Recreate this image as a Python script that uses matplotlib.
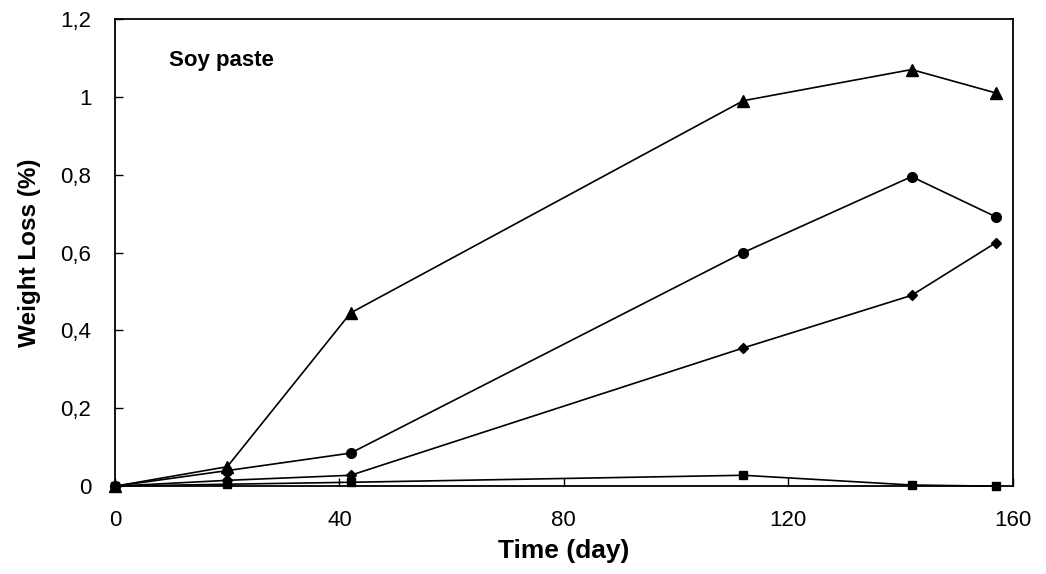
import matplotlib
matplotlib.use('Agg')
import matplotlib.pyplot as plt
from matplotlib.ticker import FuncFormatter

# data
days = [0, 20, 42, 112, 142, 157]
loss_triangle = [0, 0.05, 0.445, 0.99, 1.07, 1.01]
loss_circle = [0, 0.04, 0.085, 0.60, 0.795, 0.692]
loss_diamond = [0, 0.015, 0.028, 0.355, 0.49, 0.625]
loss_square = [0, 0.005, 0.01, 0.028, 0.003, 0.0]

x_ticks = [0, 40, 80, 120, 160]
y_ticks = [0, 0.2, 0.4, 0.6, 0.8, 1.0, 1.2]

plt.rcParams['font.family'] = ['Liberation Sans', 'DejaVu Sans']

fig = plt.figure(figsize=(10.46, 5.74), dpi=100)
ax = fig.add_axes([0.110, 0.153, 0.858, 0.814])

series = [
    (loss_triangle, '^', 8),
    (loss_circle, 'o', 7),
    (loss_diamond, 'D', 5.5),
    (loss_square, 's', 6),
]
for vals, mk, ms in series:
    ax.plot(days, vals, color='black', lw=1.2, marker=mk, markersize=ms,
            markerfacecolor='black', markeredgecolor='black', clip_on=False)

ax.set_xlim(0, 160)
ax.set_ylim(0, 1.2)
ax.set_xticks(x_ticks)
ax.set_yticks(y_ticks)


def comma_fmt(v, pos):
    s = ('%.1f' % v).rstrip('0').rstrip('.')
    return s.replace('.', ',')


ax.yaxis.set_major_formatter(FuncFormatter(comma_fmt))
ax.tick_params(axis='both', direction='in', length=6, width=1,
               labelsize=16, colors='black')
ax.tick_params(axis='y', pad=17)
ax.tick_params(axis='x', pad=17)
for sp in ax.spines.values():
    sp.set_color('black')
    sp.set_linewidth(1.3)

ax.set_xlabel('Time (day)', fontsize=19, fontweight='bold', labelpad=6)
ax.set_ylabel('Weight Loss (%)', fontsize=17.5, fontweight='bold', labelpad=14)

ax.text(0.06, 0.91, 'Soy paste', transform=ax.transAxes, fontsize=16,
        fontweight='bold', ha='left', va='center')

fig.savefig('out.png', dpi=100, facecolor='white')
